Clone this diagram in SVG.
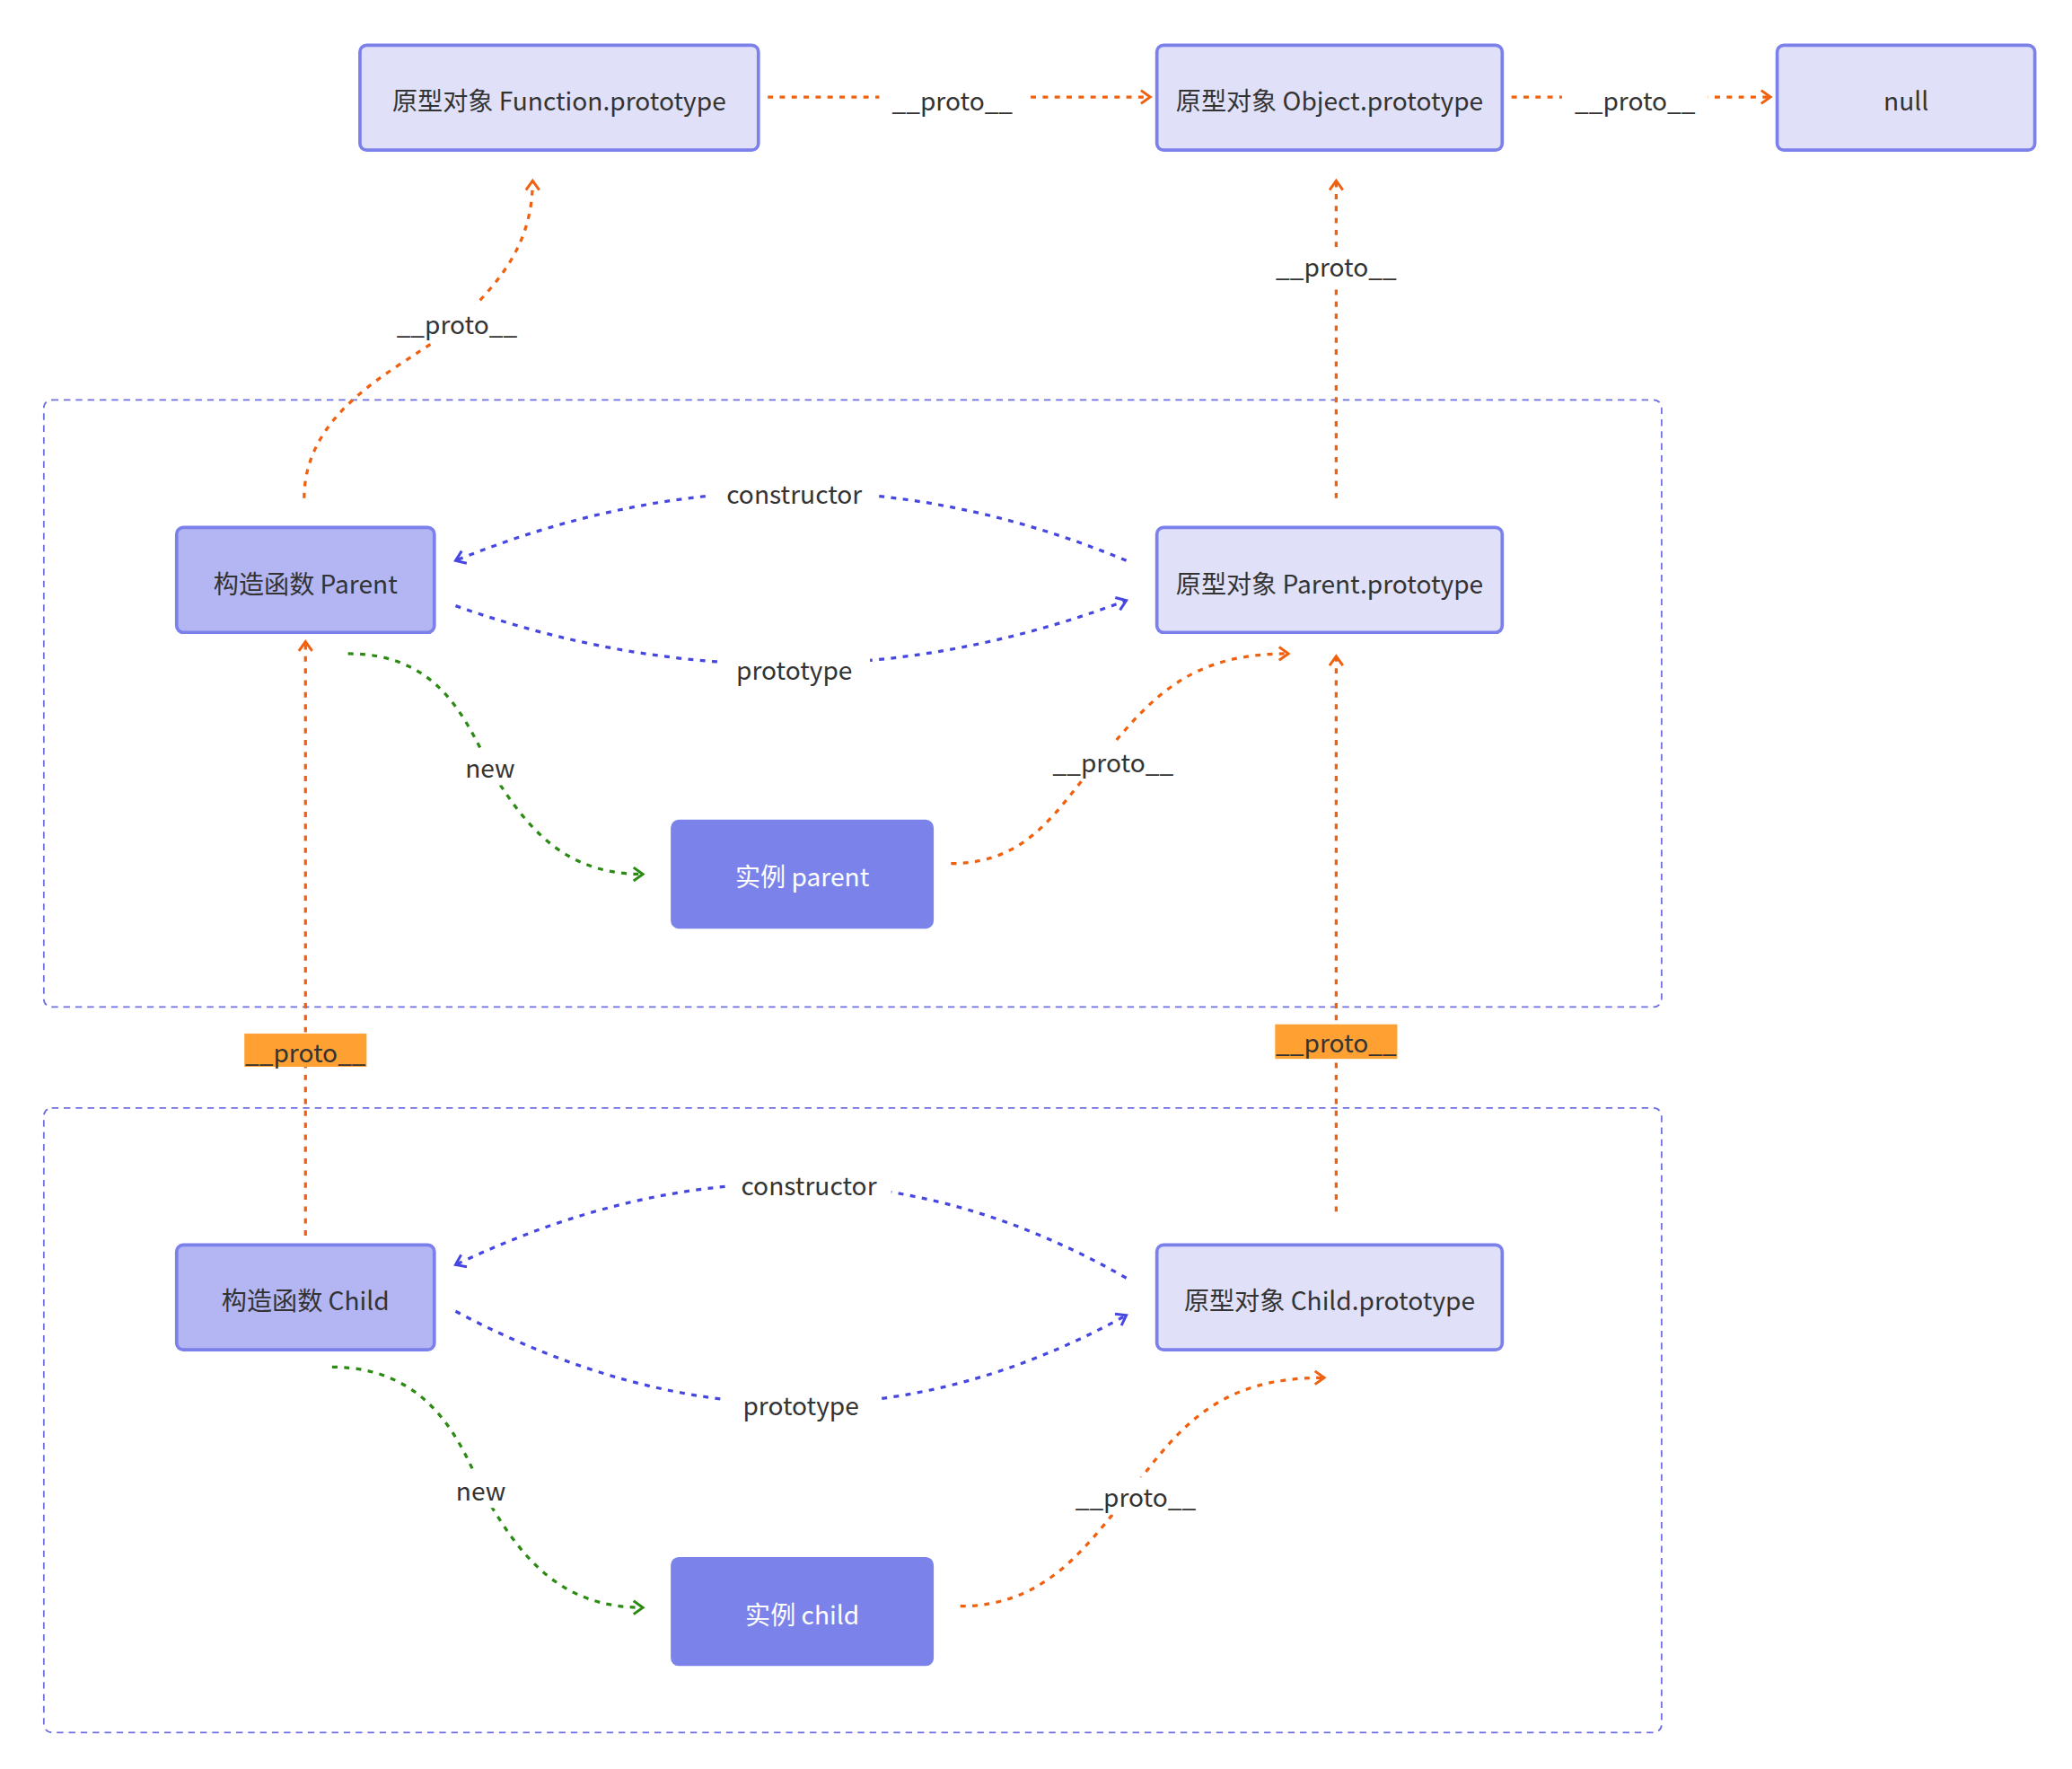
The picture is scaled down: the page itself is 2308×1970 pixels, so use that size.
<svg xmlns="http://www.w3.org/2000/svg" width="2308" height="1970" viewBox="0 0 2308 1970">
<style>
text{font-family:"Noto Sans CJK SC","Noto Sans",sans-serif;font-size:19px;fill:#333;text-anchor:middle;dominant-baseline:central}
.lt{fill:#E0E1F8;stroke:#7C80EA;stroke-width:2.5}
.md{fill:#B3B6F2;stroke:#7C80EA;stroke-width:2.5}
.dk{fill:#7B83EA;stroke:#7B83EA;stroke-width:2}
.wt{fill:#fff}
.cl{fill:none;stroke:#6E70E0;stroke-width:1.2;stroke-dasharray:5 4}
.o{fill:none;stroke:#F0600F;stroke-width:2.2;stroke-dasharray:4 5}
.b{fill:none;stroke:#4646E0;stroke-width:2.2;stroke-dasharray:4 5}
.g{fill:none;stroke:#2A8A12;stroke-width:2.2;stroke-dasharray:4 5}
.lb{fill:#fff}
.ob{fill:#FFA033}
</style>
<defs>
<marker id="ao" markerUnits="userSpaceOnUse" viewBox="0 0 12 12" refX="10" refY="6" markerWidth="12" markerHeight="12" orient="auto"><path d="M3,1 L10,6 L3,11" fill="none" stroke="#F0600F" stroke-width="2"/></marker>
<marker id="ab" markerUnits="userSpaceOnUse" viewBox="0 0 12 12" refX="10" refY="6" markerWidth="12" markerHeight="12" orient="auto"><path d="M3,1 L10,6 L3,11" fill="none" stroke="#4646E0" stroke-width="2"/></marker>
<marker id="ag" markerUnits="userSpaceOnUse" viewBox="0 0 12 12" refX="10" refY="6" markerWidth="12" markerHeight="12" orient="auto"><path d="M3,1 L10,6 L3,11" fill="none" stroke="#2A8A12" stroke-width="2"/></marker>
</defs>
<rect width="2308" height="1970" fill="#fff"/>
<g transform="scale(1.4795)">
<g id="clusters">
<rect class="cl" x="33" y="301" width="1218" height="457" rx="6"/>
<rect class="cl" x="33" y="834" width="1218" height="470" rx="6"/>
</g>
<g id="connectors">
<path class="o" d="M578,73 L866,73" marker-end="url(#ao)"/>
<path class="o" d="M1138,73 L1333,73" marker-end="url(#ao)"/>
<path class="o" d="M229,375 C229,300 320,270 344,243 C380,210 401,180 401,136" marker-end="url(#ao)"/>
<path class="o" d="M1006,375 L1006,136" marker-end="url(#ao)"/>
<path class="b" d="M848,422 Q598,318 343,422" marker-end="url(#ab)"/>
<path class="b" d="M343,456 Q598,546 848,452" marker-end="url(#ab)"/>
<path class="g" d="M262,492 C330,492 350,540 370,580 C400,630 430,658 484,658" marker-end="url(#ag)"/>
<path class="o" d="M716,650 C780,650 800,600 830,570 C870,520 900,492 970,492" marker-end="url(#ao)"/>
<path class="o" d="M230,930 L230,483" marker-end="url(#ao)"/>
<path class="o" d="M1006,912 L1006,494" marker-end="url(#ao)"/>
<path class="b" d="M848,962 Q609,825 343,952" marker-end="url(#ab)"/>
<path class="b" d="M343,987 Q603,1125 848,990" marker-end="url(#ab)"/>
<path class="g" d="M250,1029 C320,1029 345,1080 362,1120 C390,1170 420,1210 484,1210" marker-end="url(#ag)"/>
<path class="o" d="M723,1209 C790,1209 820,1160 850,1125 C890,1070 920,1037 997,1037" marker-end="url(#ao)"/>
<g id="labels">
<rect class="lb" x="662" y="60" width="110" height="28"/><text x="717" y="75">__proto__</text>
<rect class="lb" x="1176" y="60" width="110" height="28"/><text x="1231" y="75">__proto__</text>
<rect class="lb" x="295" y="229" width="100" height="28"/><text x="344" y="243">__proto__</text>
<rect class="lb" x="956" y="186" width="100" height="28"/><text x="1006" y="200">__proto__</text>
<rect class="lb" x="536" y="357" width="124" height="28"/><text x="598" y="371">constructor</text>
<rect class="lb" x="541" y="489" width="114" height="28"/><text x="598" y="503">prototype</text>
<rect class="lb" x="344" y="563" width="50" height="28"/><text x="369" y="577">new</text>
<rect class="lb" x="788" y="559" width="100" height="28"/><text x="838" y="573">__proto__</text>
<rect class="ob" x="184" y="778" width="92" height="25"/><text x="230" y="791">__proto__</text>
<rect class="ob" x="960" y="771" width="92" height="26"/><text x="1006" y="784">__proto__</text>
<rect class="lb" x="547" y="877" width="124" height="28"/><text x="609" y="891">constructor</text>
<rect class="lb" x="546" y="1043" width="114" height="28"/><text x="603" y="1057">prototype</text>
<rect class="lb" x="337" y="1107" width="50" height="28"/><text x="362" y="1121">new</text>
<rect class="lb" x="805" y="1112" width="100" height="28"/><text x="855" y="1126">__proto__</text>
</g>
</g>
<g id="n-func"><rect class="lt" x="271" y="34" width="300" height="79" rx="5"/><text x="421" y="75">原型对象 Function.prototype</text></g>
<g id="n-obj"><rect class="lt" x="871" y="34" width="260" height="79" rx="5"/><text x="1001" y="75">原型对象 Object.prototype</text></g>
<g id="n-null"><rect class="lt" x="1338" y="34" width="194" height="79" rx="5"/><text x="1435" y="75">null</text></g>
<g id="n-parent"><rect class="md" x="133" y="397" width="194" height="79" rx="5"/><text x="230" y="438">构造函数 Parent</text></g>
<g id="n-pproto"><rect class="lt" x="871" y="397" width="260" height="79" rx="5"/><text x="1001" y="438">原型对象 Parent.prototype</text></g>
<g id="n-pinst"><rect class="dk" x="506" y="618" width="196" height="80" rx="5"/><text class="wt" x="604" y="659">实例 parent</text></g>
<g id="n-child"><rect class="md" x="133" y="937" width="194" height="79" rx="5"/><text x="230" y="978">构造函数 Child</text></g>
<g id="n-cproto"><rect class="lt" x="871" y="937" width="260" height="79" rx="5"/><text x="1001" y="978">原型对象 Child.prototype</text></g>
<g id="n-cinst"><rect class="dk" x="506" y="1173" width="196" height="80" rx="5"/><text class="wt" x="604" y="1214">实例 child</text></g>
</g>
</svg>
